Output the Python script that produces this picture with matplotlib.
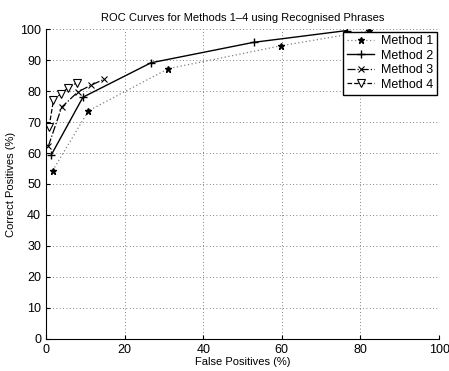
import matplotlib
matplotlib.use("Agg")
import matplotlib.pyplot as plt

plt.rcParams['font.family'] = ['Liberation Sans', 'DejaVu Sans']

# data
m1_x = [1.7, 10.8, 31.1, 59.8, 82.2]
m1_y = [54.3, 73.6, 87.2, 94.6, 99.4]
m2_x = [1.4, 9.4, 26.7, 52.8, 76.5]
m2_y = [59.5, 78.0, 89.1, 95.7, 99.5]
m3_x = [0.6, 4.0, 8.1, 11.5, 14.8]
m3_y = [62.2, 74.8, 79.7, 81.9, 83.8]
m4_x = [0.8, 1.9, 3.7, 5.7, 8.0]
m4_y = [68.5, 77.0, 79.0, 81.1, 82.7]

fig = plt.figure(figsize=(4.49, 3.71), dpi=100)
ax = fig.add_axes([0.1024, 0.0863, 0.8756, 0.8355])

ax.plot(m1_x, m1_y, linestyle=(0, (1, 2)), color='0.5', lw=0.9, marker='*', ms=4.5,
        mfc='black', mec='black', label='Method 1')
ax.plot(m2_x, m2_y, '-', color='black', lw=1.0, marker='+', ms=6,
        mew=1.0, label='Method 2')
ax.plot(m3_x, m3_y, '-.', color='black', lw=0.9, marker='x', ms=4,
        mew=0.8, label='Method 3')
ax.plot(m4_x, m4_y, '--', color='black', lw=0.9, marker='v', ms=5.5,
        mfc='white', mec='black', mew=0.8, label='Method 4')

ax.set_xlim(0, 100)
ax.set_ylim(0, 100)
ax.set_xticks(range(0, 101, 20))
ax.set_yticks(range(0, 101, 10))
ax.grid(True, linestyle=(0, (1, 3)), color='0.35', lw=0.6)
ax.set_axisbelow(True)
for s in ['top', 'right']:
    ax.spines[s].set_visible(False)
ax.tick_params(direction='in', labelsize=9, length=3)

ax.set_title('ROC Curves for Methods 1–4 using Recognised Phrases', fontsize=8, pad=6)
ax.set_xlabel('False Positives (%)', fontsize=8, labelpad=1)
ax.set_ylabel('Correct Positives (%)', fontsize=8, labelpad=3)

leg = ax.legend(loc='upper right', fontsize=9, fancybox=False, framealpha=1,
                edgecolor='black', borderaxespad=0.2, handlelength=2.2,
                labelspacing=0.2, borderpad=0.3, handletextpad=0.5)
leg.get_frame().set_linewidth(1.0)

fig.savefig('out.png', dpi=100)
